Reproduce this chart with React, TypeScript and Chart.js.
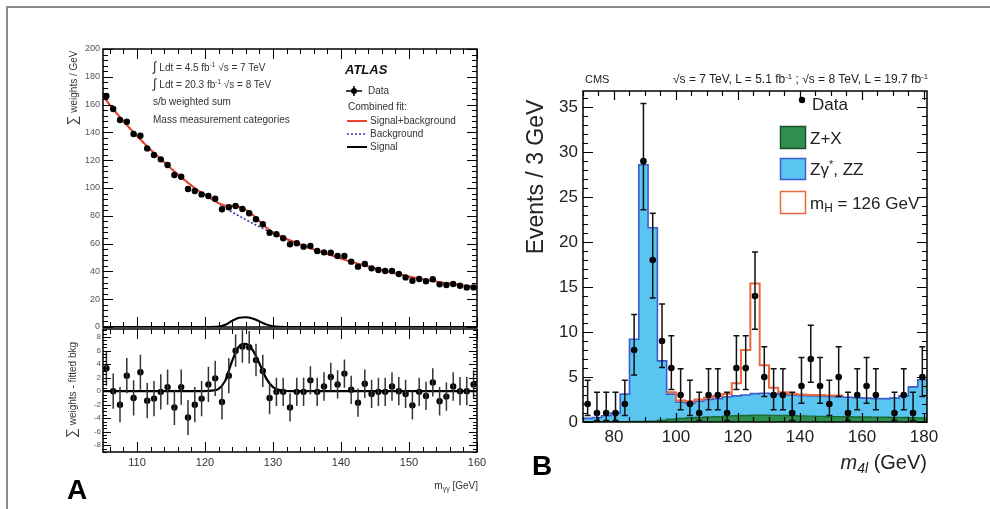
import React, { useEffect, useRef } from "react";
import { Chart, registerables } from "chart.js";

Chart.register(...registerables);

const FONT = "'Liberation Sans', Arial, Helvetica, sans-serif";

// ---------------- Panel A : ATLAS H -> gamma gamma ----------------
const atlasMass = [105.5,106.5,107.5,108.5,109.5,110.5,111.5,112.5,113.5,114.5,115.5,116.5,117.5,118.5,119.5,120.5,121.5,122.5,123.5,124.5,125.5,126.5,127.5,128.5,129.5,130.5,131.5,132.5,133.5,134.5,135.5,136.5,137.5,138.5,139.5,140.5,141.5,142.5,143.5,144.5,145.5,146.5,147.5,148.5,149.5,150.5,151.5,152.5,153.5,154.5,155.5,156.5,157.5,158.5,159.5];
const atlasWeights = [166.2,156.8,148.9,147.7,138.8,137.6,128.5,123.7,120.6,116.5,109.4,108.1,99.3,97.8,95.4,94.2,92.3,84.7,86.1,87.0,84.9,81.8,77.5,73.9,67.8,66.7,63.8,59.5,60.2,57.8,58.3,54.7,53.7,53.5,51.1,51.1,47.0,43.4,45.3,42.2,41.0,40.3,40.3,38.1,35.7,33.3,34.5,32.9,34.3,30.7,30.2,30.9,29.7,28.5,28.5];
const atlasResidual = [3.4,0.0,-2.0,2.3,-1.0,2.8,-1.4,-1.1,-0.1,0.6,-2.4,0.6,-3.9,-2.0,-1.1,1.0,1.9,-1.6,2.3,6.0,6.6,6.5,4.6,3.0,-1.0,-0.1,-0.1,-2.4,-0.1,-0.1,1.6,-0.1,0.7,2.1,1.0,2.6,0.2,-1.7,1.1,-0.4,-0.1,-0.1,0.7,0.0,-0.4,-2.1,-0.1,-0.7,1.3,-1.5,-0.8,0.7,0.0,0.0,1.0];
const atlasResidualErr = [2.6,2.6,2.6,2.6,2.6,2.6,2.6,2.6,2.6,2.6,2.6,2.6,2.6,2.6,2.6,2.6,2.6,2.6,2.6,2.4,2.4,2.4,2.4,2.4,2.4,2.1,2.1,2.1,2.1,2.1,2.1,2.1,2.1,2.1,2.1,2.1,2.1,2.1,2.1,2.1,2.1,2.1,2.1,2.1,2.1,2.1,2.1,2.1,2.1,2.1,2.1,2.1,2.1,2.1,2.1];
const atlasFitMass = [105,106,107,108,109,110,111,112,113,114,115,116,117,118,119,120,121,122,123,124,125,126,127,128,129,130,131,132,133,134,135,136,137,138,139,140,141,142,143,144,145,146,147,148,149,150,151,152,153,154,155,156,157,158,159,160];
const atlasBackgroundFit = [166,159.8,153.8,148.1,142.6,137.4,132.4,127.6,123.0,118.5,114.0,109.8,105.7,101.8,98.2,95.0,91.9,88.8,85.7,82.7,79.9,77.2,74.6,72.1,69.7,67.5,65.4,63.3,61.3,59.4,57.5,55.8,54.1,52.4,50.8,49.2,47.7,46.3,44.9,43.5,42.2,40.9,39.7,38.5,37.4,36.3,35.3,34.4,33.5,32.7,31.9,31.2,30.5,29.9,29.3,28.7];
const atlasSignalFit = [0,0,0,0,0,0,0,0,0,0,0,0,0,0,0,0.02,0.08,0.35,1.6,4.5,6.6,7.0,6.1,4.1,1.9,0.6,0.15,0.03,0,0,0,0,0,0,0,0,0,0,0,0,0,0,0,0,0,0,0,0,0,0,0,0,0,0,0,0];
const atlasXTicks = [110,120,130,140,150,160];
const atlasYTicksTop = [0,20,40,60,80,100,120,140,160,180,200];
const atlasYTicksBottom = [-8,-6,-4,-2,0,2,4,6,8];

// ---------------- Panel B : CMS H -> ZZ -> 4l ----------------
const cmsBinLow = [70,73,76,79,82,85,88,91,94,97,100,103,106,109,112,115,118,121,124,127,130,133,136,139,142,145,148,151,154,157,160,163,166,169,172,175,178];
const cmsBinWidth = 3;
const cmsCounts = [2,1,1,1,2,8,29,18,9,6,3,2,1,3,3,1,6,6,14,5,3,3,1,4,7,4,2,5,1,3,4,3,0,1,3,1,5];
const cmsErrLow = [0.71,0.17,0.17,0.17,0.71,5.23,23.6,13.8,6.06,3.62,1.37,0.71,0.17,1.37,1.37,0.17,3.62,3.62,10.3,2.84,1.37,1.37,0.17,2.09,4.42,2.09,0.71,2.84,0.17,1.37,2.09,1.37,null,0.17,1.37,0.17,2.84];
const cmsErrHigh = [4.64,3.3,3.3,3.3,4.64,11.95,35.4,23.2,13.11,9.58,5.92,4.64,3.3,5.92,5.92,3.3,9.58,9.58,18.9,8.38,5.92,5.92,3.3,7.16,10.77,7.16,4.64,8.38,3.3,5.92,7.16,5.92,null,3.3,5.92,3.3,8.38];
const cmsZZStack = [0.4,0.5,0.7,1.0,3.1,9.2,28.6,21.6,6.8,3.1,2.2,2.1,2.3,2.5,2.6,2.8,2.9,3.0,3.15,3.2,3.15,3.1,3.0,2.95,2.9,2.9,2.85,2.8,2.75,2.7,2.65,2.6,2.6,2.65,2.9,3.9,4.7];
const cmsZX = [0.03,0.03,0.03,0.03,0.04,0.05,0.07,0.1,0.2,0.3,0.4,0.45,0.5,0.55,0.6,0.65,0.7,0.72,0.75,0.75,0.74,0.72,0.7,0.68,0.65,0.63,0.6,0.6,0.58,0.56,0.55,0.54,0.52,0.5,0.5,0.48,0.46];
const cmsHiggsStack = [null,null,null,null,null,null,null,null,null,3.3,2.4,2.3,2.5,2.7,2.9,3.1,4.3,8.0,15.4,6.3,3.8,3.3,3.15,3.05,3.0,3.0,2.95,2.95,null,null,null,null,null,null,null,null,null];
const cmsXTicks = [80,100,120,140,160,180];
const cmsYTicks = [0,5,10,15,20,25,30,35];

// ---------------- helpers ----------------
function framePlugin(id: string, xc: any, yc: any, frameWidth: number, tickWidth: number) {
  return {
    id,
    afterDatasetsDraw(chart: any) {
      const { ctx, chartArea: a } = chart;
      const xs = chart.scales.x;
      const ys = chart.scales.y;
      ctx.save();
      ctx.strokeStyle = "#000";
      ctx.lineWidth = tickWidth;
      ctx.beginPath();
      const kx0 = Math.ceil(xs.min / xc.minor - 1e-6);
      const kx1 = Math.floor(xs.max / xc.minor + 1e-6);
      for (let k = kx0; k <= kx1; k++) {
        const v = k * xc.minor;
        const r = v / xc.major;
        const len = Math.abs(r - Math.round(r)) < 1e-6 ? xc.majLen : xc.minLen;
        const p = Math.round(xs.getPixelForValue(v)) + 0.5;
        ctx.moveTo(p, a.bottom); ctx.lineTo(p, a.bottom - len);
        ctx.moveTo(p, a.top); ctx.lineTo(p, a.top + len);
      }
      const ky0 = Math.ceil(ys.min / yc.minor - 1e-6);
      const ky1 = Math.floor(ys.max / yc.minor + 1e-6);
      for (let k = ky0; k <= ky1; k++) {
        const v = k * yc.minor;
        const r = v / yc.major;
        const len = Math.abs(r - Math.round(r)) < 1e-6 ? yc.majLen : yc.minLen;
        const p = Math.round(ys.getPixelForValue(v)) + 0.5;
        ctx.moveTo(a.left, p); ctx.lineTo(a.left + len, p);
        ctx.moveTo(a.right, p); ctx.lineTo(a.right - len, p);
      }
      ctx.stroke();
      ctx.lineWidth = frameWidth;
      ctx.strokeRect(a.left, a.top, a.right - a.left, a.bottom - a.top);
      ctx.restore();
    },
  };
}

function errorBarPlugin(id: string, items: any[], color: string, width: number, cap: number) {
  return {
    id,
    afterDatasetsDraw(chart: any) {
      const { ctx } = chart;
      const xs = chart.scales.x;
      const ys = chart.scales.y;
      ctx.save();
      ctx.strokeStyle = color;
      ctx.lineWidth = width;
      ctx.beginPath();
      for (const it of items) {
        if (it.lo == null || it.hi == null) continue;
        const px = xs.getPixelForValue(it.x);
        const y1 = ys.getPixelForValue(it.lo);
        const y2 = ys.getPixelForValue(it.hi);
        ctx.moveTo(px, y1); ctx.lineTo(px, y2);
        if (cap > 0) {
          ctx.moveTo(px - cap, y1); ctx.lineTo(px + cap, y1);
          ctx.moveTo(px - cap, y2); ctx.lineTo(px + cap, y2);
        }
      }
      ctx.stroke();
      ctx.restore();
    },
  };
}

function fixedScale(min: number, max: number, ticks: number[], o: any) {
  return {
    type: "linear",
    min,
    max,
    display: o.display === undefined ? true : o.display,
    grid: { display: false, drawTicks: false },
    border: { display: false },
    ticks: {
      autoSkip: false,
      maxRotation: 0,
      minRotation: 0,
      padding: o.pad || 0,
      color: o.color || "#111",
      font: { family: FONT, size: o.size || 10 },
      callback: (v: any) => String(v),
    },
    afterBuildTicks: (s: any) => { s.ticks = ticks.map((v) => ({ value: v })); },
    afterFit: (s: any) => {
      if (o.width != null) s.width = o.width;
      if (o.height != null) s.height = o.height;
      s.paddingLeft = 0; s.paddingRight = 0; s.paddingTop = 0; s.paddingBottom = 0;
    },
  };
}

function stepPoints(vals: (number | null)[]) {
  const pts: any[] = [];
  vals.forEach((v, i) => {
    if (v == null) return;
    const lo = cmsBinLow[i];
    pts.push({ x: lo, y: v }, { x: lo + cmsBinWidth, y: v });
  });
  return pts;
}

const baseOptions = {
  responsive: false,
  animation: false,
  events: [],
  plugins: { legend: { display: false }, tooltip: { enabled: false } },
};

const sup: any = { fontSize: "0.65em", verticalAlign: "0.55em", lineHeight: 0 };
const sub: any = { fontSize: "0.7em", verticalAlign: "-0.3em", lineHeight: 0 };

function Label(p: any) {
  const tx = p.align === "right" ? "-100%" : p.align === "center" ? "-50%" : "0";
  return (
    <div style={{
      position: "absolute", left: p.x, top: p.y, transform: `translate(${tx},-50%)`,
      fontFamily: FONT, fontSize: p.size, lineHeight: 1, whiteSpace: "nowrap",
      color: p.color || "#111", fontWeight: p.bold ? "bold" : "normal",
      fontStyle: p.italic ? "italic" : "normal",
    }}>{p.children}</div>
  );
}

function RotLabel(p: any) {
  return (
    <div style={{
      position: "absolute", left: p.x, top: p.y,
      transform: "translate(-50%,-50%) rotate(-90deg)",
      fontFamily: FONT, fontSize: p.size, lineHeight: 1, whiteSpace: "nowrap",
      color: p.color || "#111",
    }}>{p.children}</div>
  );
}

export default function App() {
  const upRef = useRef<HTMLCanvasElement>(null);
  const lowRef = useRef<HTMLCanvasElement>(null);
  const cmsRef = useRef<HTMLCanvasElement>(null);

  useEffect(() => {
    const charts: Chart[] = [];
    const atlasPoints = atlasMass.map((m, i) => ({ x: m, y: atlasWeights[i] }));
    const bgCurve = atlasFitMass.map((m, i) => ({ x: m, y: atlasBackgroundFit[i] }));
    const sbCurve = atlasFitMass.map((m, i) => ({ x: m, y: atlasBackgroundFit[i] + atlasSignalFit[i] }));
    const sigCurve = atlasFitMass.map((m, i) => ({ x: m, y: atlasSignalFit[i] }));

    // ATLAS upper
    charts.push(new Chart(upRef.current as any, {
      type: "line",
      data: {
        datasets: [
          { data: atlasPoints, showLine: false, pointRadius: 3.2, pointBackgroundColor: "#000", pointBorderWidth: 0, order: 1 },
          { data: sbCurve, borderColor: "#e8452c", borderWidth: 2, pointRadius: 0, cubicInterpolationMode: "monotone", order: 2 },
          { data: sigCurve, borderColor: "#000", borderWidth: 2, pointRadius: 0, cubicInterpolationMode: "monotone", order: 2 },
          { data: bgCurve, borderColor: "#3a3aa8", borderWidth: 1.6, borderDash: [2, 2], pointRadius: 0, cubicInterpolationMode: "monotone", order: 3 },
        ],
      } as any,
      options: {
        ...baseOptions,
        layout: { padding: { left: 0, top: 19, right: 23, bottom: 13 } },
        scales: {
          x: fixedScale(105, 160, atlasXTicks, { display: false }),
          y: fixedScale(0, 200, atlasYTicksTop, { width: 63, pad: 3, size: 9, color: "#555" }),
        },
      } as any,
      plugins: [framePlugin("atlasUpFrame", { major: 10, minor: 2, majLen: 10, minLen: 5 }, { major: 20, minor: 4, majLen: 10, minLen: 5 }, 1.5, 1)],
    }));

    // ATLAS lower (residuals)
    const resPoints = atlasMass.map((m, i) => ({ x: m, y: atlasResidual[i] }));
    const resErr = atlasMass.map((m, i) => ({ x: m, lo: atlasResidual[i] - atlasResidualErr[i], hi: atlasResidual[i] + atlasResidualErr[i] }));
    charts.push(new Chart(lowRef.current as any, {
      type: "line",
      data: {
        datasets: [
          { data: resPoints, showLine: false, pointRadius: 3.2, pointBackgroundColor: "#000", pointBorderWidth: 0, order: 1 },
          { data: sigCurve, borderColor: "#000", borderWidth: 2.2, pointRadius: 0, cubicInterpolationMode: "monotone", order: 2 },
        ],
      } as any,
      options: {
        ...baseOptions,
        layout: { padding: { left: 0, top: 9, right: 23, bottom: 0 } },
        scales: {
          x: fixedScale(105, 160, atlasXTicks, { height: 53, pad: 4, size: 11, color: "#333" }),
          y: fixedScale(-9, 9.2, atlasYTicksBottom, { width: 63, pad: 2, size: 8, color: "#555" }),
        },
      } as any,
      plugins: [
        errorBarPlugin("atlasResErr", resErr, "#333", 1.5, 0),
        framePlugin("atlasLowFrame", { major: 10, minor: 2, majLen: 10, minLen: 5 }, { major: 2, minor: 0.5, majLen: 8, minLen: 4 }, 1.5, 1),
      ],
    }));

    // CMS
    const cmsPoints = cmsBinLow.map((lo, i) => ({ x: lo + cmsBinWidth / 2, y: cmsCounts[i] > 0 ? cmsCounts[i] : null }));
    const cmsErr = cmsBinLow.map((lo, i) => ({ x: lo + cmsBinWidth / 2, lo: cmsErrLow[i], hi: cmsErrHigh[i] }));
    charts.push(new Chart(cmsRef.current as any, {
      type: "line",
      data: {
        datasets: [
          { data: cmsPoints, showLine: false, pointRadius: 3.3, pointBackgroundColor: "#000", pointBorderWidth: 0, order: 1 },
          { data: stepPoints(cmsHiggsStack), borderColor: "#ea6a3f", borderWidth: 2, pointRadius: 0, fill: false, order: 2 },
          { data: stepPoints(cmsZX), borderColor: "#1b6a34", backgroundColor: "#2f8f4e", borderWidth: 1.4, pointRadius: 0, fill: "origin", order: 3 },
          { data: stepPoints(cmsZZStack), borderColor: "#3a5ccc", backgroundColor: "#5bc5f2", borderWidth: 1.6, pointRadius: 0, fill: "origin", order: 4 },
        ],
      } as any,
      options: {
        ...baseOptions,
        layout: { padding: { left: 0, top: 31, right: 33, bottom: 0 } },
        scales: {
          x: fixedScale(70, 181, cmsXTicks, { height: 58, pad: 5, size: 17, color: "#222" }),
          y: fixedScale(0, 36.8, cmsYTicks, { width: 83, pad: 5, size: 17, color: "#222" }),
        },
      } as any,
      plugins: [
        errorBarPlugin("cmsErr", cmsErr, "#111", 1.5, 3),
        framePlugin("cmsFrame", { major: 20, minor: 5, majLen: 9, minLen: 5 }, { major: 5, minor: 1, majLen: 10, minLen: 5 }, 1.5, 1.2),
      ],
    }));

    return () => charts.forEach((c) => c.destroy());
  }, []);

  const atlasText = "#333";
  const legY = [91, 107, 121, 134, 147];
  return (
    <div style={{ position: "absolute", left: 0, top: 0, width: 990, height: 509, background: "#fff", overflow: "hidden", fontFamily: FONT }}>
      <div style={{ position: "absolute", left: 6, top: 6, width: 990, height: 509, borderLeft: "2px solid #8a8a8a", borderTop: "2px solid #8a8a8a" }} />
      <canvas ref={upRef} width={460} height={310} style={{ position: "absolute", left: 40, top: 30 }} />
      <canvas ref={lowRef} width={460} height={185} style={{ position: "absolute", left: 40, top: 320 }} />
      <canvas ref={cmsRef} width={460} height={420} style={{ position: "absolute", left: 500, top: 60 }} />

      <svg width={990} height={509} style={{ position: "absolute", left: 0, top: 0, pointerEvents: "none" }}>
        {/* ATLAS legend markers */}
        <line x1={346} y1={legY[0]} x2={362} y2={legY[0]} stroke="#000" strokeWidth={1.5} />
        <line x1={354} y1={legY[0] - 5} x2={354} y2={legY[0] + 5} stroke="#000" strokeWidth={1.5} />
        <circle cx={354} cy={legY[0]} r={3} fill="#000" />
        <line x1={347} y1={legY[2]} x2={367} y2={legY[2]} stroke="#e8452c" strokeWidth={2} />
        <line x1={347} y1={legY[3]} x2={367} y2={legY[3]} stroke="#3a3aa8" strokeWidth={1.6} strokeDasharray="2 2" />
        <line x1={347} y1={legY[4]} x2={367} y2={legY[4]} stroke="#000" strokeWidth={2} />
        {/* CMS legend markers */}
        <circle cx={802} cy={100} r={3.2} fill="#000" />
        <rect x={780.5} y={126.5} width={25} height={22} fill="#2f8f4e" stroke="#1b4f2a" strokeWidth={1.5} />
        <rect x={780.5} y={158.5} width={25} height={21} fill="#5bc5f2" stroke="#3a5ccc" strokeWidth={1.5} />
        <rect x={780.5} y={191.5} width={25} height={22} fill="#fff" stroke="#ea6a3f" strokeWidth={1.5} />
      </svg>

      {/* ATLAS annotations */}
      <Label x={153} y={66} size={10} color={atlasText}><span style={{ fontSize: "1.3em" }}>∫</span> Ldt = 4.5 fb<span style={sup}>-1</span> √s = 7 TeV</Label>
      <Label x={153} y={83} size={10} color={atlasText}><span style={{ fontSize: "1.3em" }}>∫</span> Ldt = 20.3 fb<span style={sup}>-1</span> √s = 8 TeV</Label>
      <Label x={153} y={102} size={10} color={atlasText}>s/b weighted sum</Label>
      <Label x={153} y={120} size={10} color={atlasText}>Mass measurement categories</Label>
      <Label x={345} y={69} size={13} bold italic color="#111">ATLAS</Label>
      <Label x={368} y={legY[0]} size={10} color={atlasText}>Data</Label>
      <Label x={348} y={legY[1]} size={10} color={atlasText}>Combined fit:</Label>
      <Label x={370} y={legY[2]} size={10} color={atlasText}>Signal+background</Label>
      <Label x={370} y={legY[3]} size={10} color={atlasText}>Background</Label>
      <Label x={370} y={legY[4]} size={10} color={atlasText}>Signal</Label>
      <RotLabel x={72} y={88} size={10} color={atlasText}><span style={{ fontSize: "1.4em" }}>∑</span> weights / GeV</RotLabel>
      <RotLabel x={71} y={390} size={10} color={atlasText}><span style={{ fontSize: "1.4em" }}>∑</span> weights - fitted bkg</RotLabel>
      <Label x={478} y={486} size={10} align="right" color={atlasText}>m<span style={sub}>γγ</span> [GeV]</Label>
      <Label x={67} y={490} size={28} bold color="#000">A</Label>

      {/* CMS annotations */}
      <Label x={585} y={79} size={11} color="#222">CMS</Label>
      <Label x={928} y={79} size={12} align="right" color="#222">√s = 7 TeV, L = 5.1 fb<span style={sup}>-1</span> ; √s = 8 TeV, L = 19.7 fb<span style={sup}>-1</span></Label>
      <RotLabel x={535} y={177} size={23} color="#222">Events / 3 GeV</RotLabel>
      <Label x={927} y={462} size={20} align="right" color="#222"><i>m</i><span style={sub}><i>4l</i></span> (GeV)</Label>
      <Label x={532} y={466} size={28} bold color="#000">B</Label>
      <Label x={812} y={104} size={17} color="#222">Data</Label>
      <Label x={810} y={138} size={17} color="#222">Z+X</Label>
      <Label x={810} y={169} size={17} color="#222">Zγ<span style={sup}>*</span>, ZZ</Label>
      <Label x={810} y={203} size={17} color="#222">m<span style={sub}>H</span> = 126 GeV</Label>
    </div>
  );
}
